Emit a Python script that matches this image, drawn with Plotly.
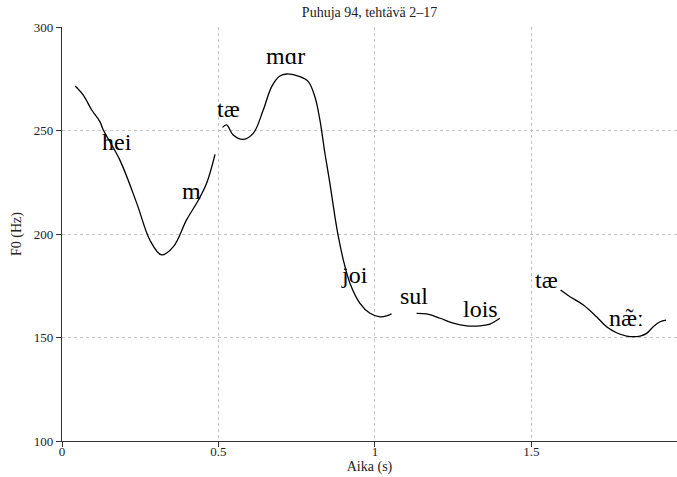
import plotly.graph_objects as go

# F0 contour segments (time in s, F0 in Hz)
seg1_t = [0.042, 0.068, 0.095, 0.121, 0.132, 0.185, 0.239, 0.281, 0.318, 0.356, 0.398, 0.436, 0.462, 0.489]
seg1_f = [271.5, 267.1, 259.9, 254.3, 250.2, 235.7, 214.8, 197.0, 189.9, 193.9, 206.8, 216.4, 224.5, 238.5]

seg2_t = [0.513, 0.526, 0.547, 0.579, 0.611, 0.643, 0.670, 0.696, 0.718, 0.760, 0.787, 0.808, 0.824, 0.840,
          0.856, 0.872, 0.883, 0.899, 0.920, 0.952, 0.984, 1.016, 1.037, 1.053]
seg2_f = [251.5, 252.7, 247.8, 245.7, 248.6, 259.9, 271.2, 276.3, 277.3, 276.0, 273.6, 266.3, 255.1, 239.0,
          224.5, 208.4, 198.7, 187.4, 176.2, 166.5, 161.7, 160.0, 160.4, 161.4]

seg3_t = [1.133, 1.165, 1.208, 1.250, 1.293, 1.335, 1.367, 1.399]
seg3_f = [161.7, 161.4, 159.3, 156.9, 155.6, 155.6, 156.5, 159.3]

seg4_t = [1.593, 1.623, 1.666, 1.708, 1.740, 1.772, 1.804, 1.847, 1.868, 1.889, 1.911, 1.930]
seg4_f = [172.9, 169.7, 165.7, 160.0, 155.2, 152.3, 150.7, 150.7, 152.0, 155.2, 157.6, 158.4]

# Syllable labels
syll_text = ["hei", "m", "tæ", "mɑr", "joi", "sul", "lois", "tæ", "næ\u0303ː"]
syll_t = [0.177, 0.414, 0.531, 0.713, 0.936, 1.126, 1.337, 1.547, 1.804]
syll_f = [244.5, 220.8, 260.4, 286.0, 180.2, 170.0, 164.0, 178.0, 159.5]

x_ticks = [0, 0.5, 1, 1.5]
x_tick_labels = ["0", "0.5", "1", "1.5"]
y_ticks = [100, 150, 200, 250, 300]

FONT = "Liberation Serif"

fig = go.Figure()
for t, f in [(seg1_t, seg1_f), (seg2_t, seg2_f), (seg3_t, seg3_f), (seg4_t, seg4_f)]:
    fig.add_trace(go.Scatter(x=t, y=f, mode="lines",
                             line=dict(color="black", width=1.3, shape="spline", smoothing=1.0),
                             showlegend=False, hoverinfo="skip"))

for s, t, f in zip(syll_text, syll_t, syll_f):
    fig.add_annotation(x=t, y=f, text=s, showarrow=False,
                       font=dict(family=FONT, size=24, color="black"))

fig.update_layout(
    width=677, height=477,
    margin=dict(l=62, r=0, t=27, b=36, autoexpand=False),
    paper_bgcolor="white", plot_bgcolor="white",
    font=dict(family=FONT, size=13, color="#222"),
    title=dict(text="Puhuja 94, tehtävä 2–17", x=0.5, xref="paper", xanchor="center",
               y=1 - 12 / 477, yanchor="middle", yref="container",
               font=dict(family=FONT, size=14, color="#222")),
    xaxis=dict(range=[0, 1.965], tickvals=x_ticks, ticktext=x_tick_labels,
               showgrid=True, gridcolor="#c4c4c4", griddash="dot", gridwidth=1,
               showline=True, linecolor="#333", linewidth=1.2,
               ticks="outside", ticklen=5, tickcolor="#333",
               ticklabelstandoff=-7,
               zeroline=False, automargin=False,
               title=dict(text="Aika (s)", standoff=0, font=dict(family=FONT, size=14))),
    yaxis=dict(range=[100, 300], tickvals=y_ticks,
               showgrid=True, gridcolor="#c4c4c4", griddash="dot", gridwidth=1,
               showline=True, linecolor="#333", linewidth=1.2,
               ticks="outside", ticklen=5, tickcolor="#333",
               zeroline=False, automargin=False,
               title=dict(text="F0 (Hz)", standoff=8, font=dict(family=FONT, size=14))),
)

fig.write_html("out.html", config={"displayModeBar": False},
               post_script="document.body.style.margin='0';document.body.style.overflow='hidden';")
